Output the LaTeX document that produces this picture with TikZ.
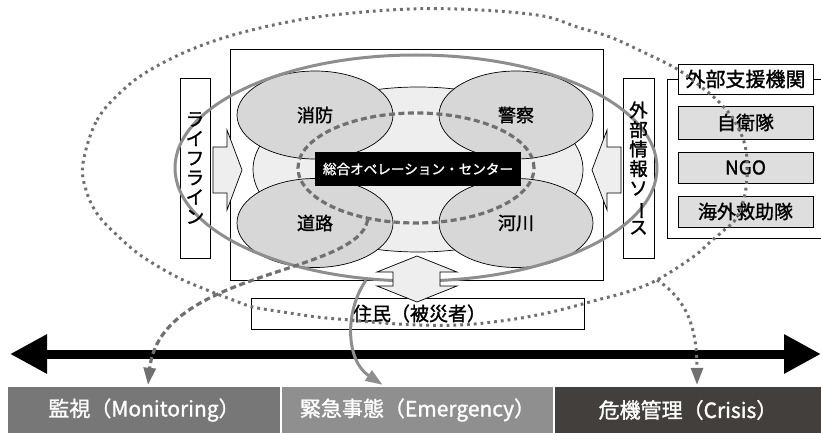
\documentclass[tikz,border=0pt]{standalone}
\usepackage{fontspec}
\setmainfont{Noto Sans CJK JP}[FakeBold=1.4]
\usetikzlibrary{shapes.geometric,arrows.meta}
\definecolor{ellfill}{HTML}{D7D7D7}
\definecolor{bgfill}{HTML}{EDEEED}
\definecolor{arrowfill}{HTML}{EEEEEE}
\definecolor{boxgray}{HTML}{DEDEDE}
\definecolor{gline}{HTML}{8E8E8E}
\definecolor{dline}{HTML}{707070}
\definecolor{bandA}{HTML}{777777}
\definecolor{bandB}{HTML}{8F8F8F}
\definecolor{bandC}{HTML}{433F3D}
\begin{document}
\begin{tikzpicture}[x=1pt,y=-1pt,
  thinbox/.style={draw=black,line width=0.8pt,inner sep=0pt},
  ovalnode/.style={ellipse,draw=black,line width=0.7pt,inner sep=0pt},
  blockarrow/.style={draw=black,line width=0.7pt,fill=arrowfill,line join=miter},
  graysolid/.style={draw=gline,line width=3pt},
  graydash/.style={draw=dline,line width=3.2pt,dash pattern=on 6pt off 3.5pt},
  graydot/.style={draw=dline,line width=3pt,dash pattern=on 2.8pt off 4pt},
  gtip/.style={-{Triangle[length=17pt,width=12pt]}},
  band/.style={inner sep=0pt,minimum height=46pt,text=white,font=\fontsize{21}{21}\selectfont},
  ovaltext/.style={font=\fontsize{18}{18}\selectfont},
  vtext/.style={font=\fontsize{18.5}{19.5}\selectfont,align=center,inner sep=0pt},
  supbox/.style={thinbox,fill=boxgray,minimum width=135pt,font=\fontsize{19}{19}\selectfont},
]
\useasboundingbox (0,0) rectangle (821,433);

% frames
\node[thinbox,fill=white,minimum width=373pt,minimum height=231pt] (mainbox) at (416.5,164.5) {};
\node[thinbox,fill=white,minimum width=30pt,minimum height=180pt] (lifebox) at (195,168) {};
\node[thinbox,fill=white,minimum width=31pt,minimum height=180pt] (extbox) at (638.5,168) {};

% block arrows
\draw[blockarrow] (213,147) -- (227,147) -- (227,130) -- (242,170) -- (227,210) -- (227,193) -- (213,193) -- cycle;
\draw[blockarrow] (621,147) -- (607,147) -- (607,130) -- (592,170) -- (607,210) -- (607,193) -- (621,193) -- cycle;

% ellipses
\node[ovalnode,fill=bgfill,minimum width=330pt,minimum height=165pt] (core) at (418,169.5) {};
\node[ovalnode,fill=ellfill,minimum width=156pt,minimum height=88pt,ovaltext] (fire) at (315,115) {消防};
\node[ovalnode,fill=ellfill,minimum width=154pt,minimum height=88pt,ovaltext] (police) at (516,115) {警察};
\node[ovalnode,fill=ellfill,minimum width=156pt,minimum height=89pt,ovaltext] (road) at (315,223) {道路};
\node[ovalnode,fill=ellfill,minimum width=154pt,minimum height=89pt,ovaltext] (river) at (516,223) {河川};

\node[ellipse,graydash,minimum width=236pt,minimum height=110pt,inner sep=0pt] (dashell) at (416,168) {};
\node[fill=black,text=white,inner sep=0pt,minimum width=206pt,minimum height=34pt,font=\fontsize{13.6}{14}\selectfont] (ops) at (418,169) {総合オペレーション・センター};

\node[ellipse,graysolid,minimum width=482pt,minimum height=226pt,inner sep=0pt] (bigell) at (416,168) {};

% vertical texts
\node[vtext] (lifet) at (lifebox) {ラ\\イ\\フ\\ラ\\イ\\ン};
\node[vtext] (extt) at (extbox) {外\\部\\情\\報\\ソ\\\rotatebox[origin=c]{-90}{ー}\\ス};

% residents
\node[thinbox,fill=white,minimum width=333pt,minimum height=31pt,font=\fontsize{19}{19}\selectfont] (resid) at (417.5,313.5) {\hspace*{4pt}住民（被災者）};
\draw[blockarrow] (417,256) -- (457,272) -- (440,272) -- (440,286) -- (457,286) -- (417,302) -- (377,286) -- (393,286) -- (393,272) -- (377,272) -- cycle;

% external support
\draw[line width=0.8pt] (821,79) -| (667,238) -- (821,238);
\node[thinbox,fill=white,minimum width=135pt,minimum height=30pt,font=\fontsize{20}{20}\selectfont] (sup) at (745.5,79) {外部支援機関};
\node[supbox,minimum height=33pt] (sdf) at (745.5,122.5) {自衛隊};
\node[supbox,minimum height=31pt] (ngo) at (745.5,167.5) {NGO};
\node[supbox,minimum height=31pt] (intl) at (745.5,211.5) {海外救助隊};

% bands
\node[band,fill=bandA,minimum width=272pt] (mon) at (144,410) {監視（Monitoring）};
\node[band,fill=bandB,minimum width=271pt] (emg) at (417.5,410) {緊急事態（Emergency）};
\node[band,fill=bandC,minimum width=266pt] (cri) at (688,410) {危機管理（Crisis）};

% time axis
\coordinate (tl) at (10,354);
\coordinate (tr) at (821,354);
\draw[line width=9pt,{Triangle[length=37pt,width=37pt]}-{Triangle[length=37pt,width=37pt]}] (tl) -- (tr);

% connectors
\draw[graydash,gtip] (dashell.227) .. controls (358,275) and (160,270) .. ([xshift=4pt,yshift=2pt]mon.north);
\draw[graysolid,gtip] (bigell.246) .. controls (345,310) and (345,360) .. ([xshift=-35pt,yshift=2pt]emg.north);

% dotted region
\draw[graydot] plot[smooth cycle,tension=0.6] coordinates {(83,163) (97,120) (123,90) (150,70) (190,50) (233,35) (283,23) (333,15) (410,9) (480,10) (543,16) (577,27) (610,37) (643,52) (677,69) (700,86) (719,102) (735,122) (746,150) (746,188) (737,217) (723,231) (710,242) (693,257) (657,280) (627,292) (597,300) (560,310) (527,317) (493,322) (460,325) (420,325) (383,323) (350,320) (317,317) (283,312) (253,307) (233,300) (207,290) (177,277) (143,257) (120,238) (98,215) (86,190)};
\coordinate (br) at (657,280);
\coordinate (critip) at ([xshift=9pt,yshift=2pt]cri.north);
\draw[graydot,gtip] (br) .. controls (685,298) and (697,325) .. (critip);
\end{tikzpicture}
\end{document}
